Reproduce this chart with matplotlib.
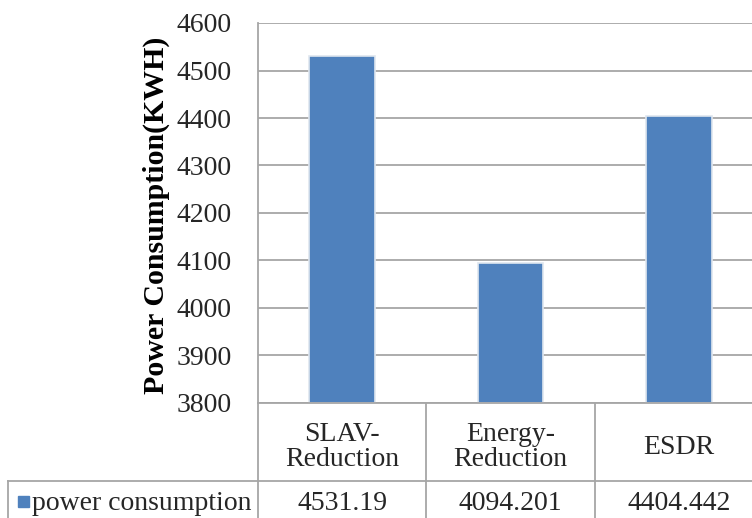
import matplotlib
matplotlib.use("Agg")
import matplotlib.pyplot as plt
from matplotlib.lines import Line2D
from matplotlib.patches import Rectangle
from matplotlib.transforms import blended_transform_factory

plt.rcParams["font.family"] = "serif"
plt.rcParams["font.serif"] = ["Liberation Serif", "DejaVu Serif"]

categories = ["SLAV-\nReduction", "Energy-\nReduction", "ESDR"]
power_kwh = [4531.19, 4094.201, 4404.442]
value_labels = ["4531.19", "4094.201", "4404.442"]
series_name = "power consumption"
y_ticks = [3800, 3900, 4000, 4100, 4200, 4300, 4400, 4500, 4600]

W, H = 752, 518
fig = plt.figure(figsize=(W / 100, H / 100), dpi=100)

bar_color = "#4F81BD"
grid_color = "#A6A6A6"
text_color = "#262626"
fs = 20

# plot area in pixel terms (right edge runs past the canvas)
left_px, right_px, top_px, bottom_px = 258, 763, 23, 403
ax = fig.add_axes([left_px / W, 1 - bottom_px / H,
                   (right_px - left_px) / W, (bottom_px - top_px) / H])

x = list(range(len(categories)))
ax.bar(x, [v - y_ticks[0] for v in power_kwh], bottom=y_ticks[0], width=0.39,
       color=bar_color, edgecolor="#dfe6ef", linewidth=1.2, zorder=3)

ax.set_xlim(-0.5, len(categories) - 0.5)
ax.set_ylim(y_ticks[0], y_ticks[-1])
ax.set_yticks(y_ticks)
ax.set_yticklabels([str(t) for t in y_ticks], fontsize=fs, color=text_color)
ax.tick_params(axis="y", length=0, pad=19)
ax.set_xticks([])
ax.yaxis.grid(True, color=grid_color, linewidth=1.3, zorder=0)
for side in ("top", "right", "bottom"):
    ax.spines[side].set_visible(False)
ax.spines["left"].set_color(grid_color)
ax.spines["left"].set_linewidth(1.3)

ax.set_ylabel("Power Consumption(KWH)", fontsize=21.5, fontweight="bold",
              color="black")
ax.yaxis.set_label_coords((170 - left_px) / (right_px - left_px), 0.495)

# data table beneath the axis
fig_tr = fig.transFigure
blend = blended_transform_factory(ax.transData, fig_tr)
row_line_y = 1 - 481 / H
axis_bottom_y = 1 - bottom_px / H

fig.add_artist(Line2D([8 / W, 1.02], [row_line_y, row_line_y],
                      transform=fig_tr, color=grid_color, linewidth=1.3))
fig.add_artist(Line2D([8 / W, 8 / W], [row_line_y, -0.02],
                      transform=fig_tr, color=grid_color, linewidth=1.3))
fig.add_artist(Line2D([left_px / W, 1.02], [axis_bottom_y, axis_bottom_y],
                      transform=fig_tr, color=grid_color, linewidth=1.3))
for b in [i - 0.5 for i in range(len(categories) + 1)]:
    fig.add_artist(Line2D([b, b], [axis_bottom_y, -0.02], transform=blend,
                          color=grid_color, linewidth=1.3))

cat_y = 1 - 447 / H
val_y = 1 - 503 / H
for i, (c, v) in enumerate(zip(categories, value_labels)):
    fig.text(i, cat_y, c, transform=blend, ha="center", va="center",
             fontsize=fs, color=text_color, linespacing=1.0)
    fig.text(i, val_y, v, transform=blend, ha="center", va="center",
             fontsize=fs, color=text_color)

fig.add_artist(Rectangle((18 / W, 1 - 507 / H), 11 / W, 11 / H,
                         transform=fig_tr, color=bar_color))
fig.text(32 / W, val_y, series_name, ha="left", va="center",
         fontsize=fs, color=text_color)

fig.savefig("out.png", dpi=100)
